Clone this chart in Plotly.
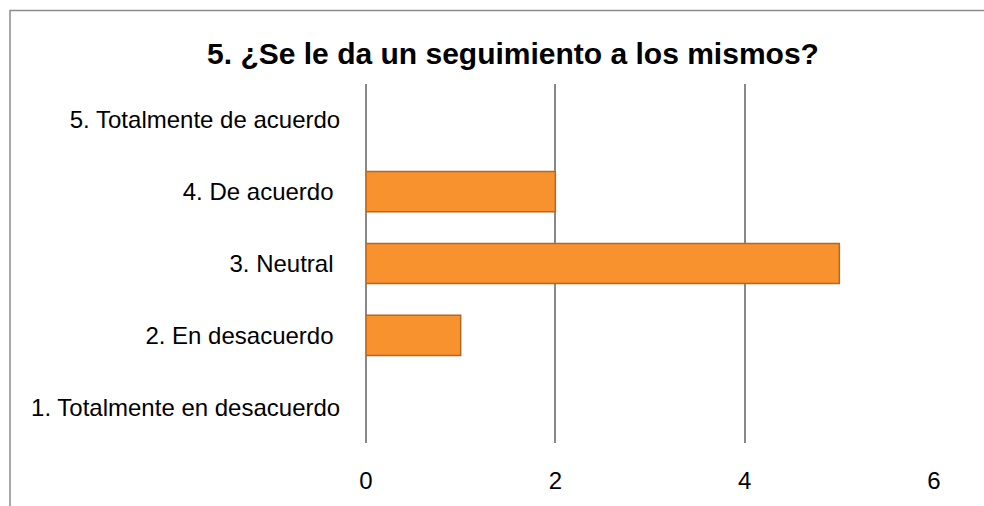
import plotly.graph_objects as go

categories = [
    "1. Totalmente en desacuerdo",
    "2. En desacuerdo\u00a0",
    "3. Neutral\u00a0",
    "4. De acuerdo\u00a0",
    "5. Totalmente de acuerdo",
]
values = [0, 1, 5, 2, 0]
x_ticks = [0, 2, 4, 6]
title_text = "5. ¿Se le da un seguimiento a los mismos?"

W, H = 984, 506
L, R, T, B = 366, 50, 84, 56

fig = go.Figure()
fig.add_trace(go.Bar(
    y=categories,
    x=values,
    orientation="h",
    width=0.56,
    marker=dict(
        color="#F7922F",
        line=dict(color="#B8661E", width=[0 if v == 0 else 1.5 for v in values]),
    ),
    hoverinfo="x+y",
))

fig.update_layout(
    width=W,
    height=H,
    margin=dict(l=L, r=R, t=T, b=B),
    paper_bgcolor="white",
    plot_bgcolor="white",
    font=dict(family="Liberation Sans, Arial, sans-serif", size=24, color="#000000"),
    title=dict(
        text="<b>" + title_text + "</b>",
        x=513 / W,
        xanchor="center",
        y=1 - 53 / H,
        yanchor="middle",
        font=dict(size=30, color="#000000"),
    ),
    showlegend=False,
    bargap=0.44,
    xaxis=dict(
        range=[0, 6],
        tickvals=x_ticks,
        showgrid=True,
        gridcolor="#888888",
        gridwidth=1.5,
        zeroline=True,
        zerolinecolor="#888888",
        zerolinewidth=1.5,
        showline=False,
        ticks="outside",
        ticklen=16,
        tickcolor="rgba(0,0,0,0)",
        tickfont=dict(size=24),
        fixedrange=True,
    ),
    yaxis=dict(
        categoryorder="array",
        categoryarray=categories,
        showgrid=False,
        zeroline=False,
        showline=False,
        ticks="outside",
        ticklen=20,
        tickcolor="rgba(0,0,0,0)",
        tickfont=dict(size=24),
        fixedrange=True,
    ),
)

# chart frame (extends past the right/bottom edges as in the reference)
pw = W - L - R
ph = H - T - B
fig.add_shape(
    type="rect",
    xref="paper", yref="paper",
    x0=(10 - L) / pw, x1=(W + 20 - L) / pw,
    y0=-(H + 20 - (H - B)) / ph, y1=(H - B - 9) / ph,
    line=dict(color="#8c8c8c", width=1.5),
    fillcolor="rgba(0,0,0,0)",
    layer="below",
)

fig.write_html("out.html")
